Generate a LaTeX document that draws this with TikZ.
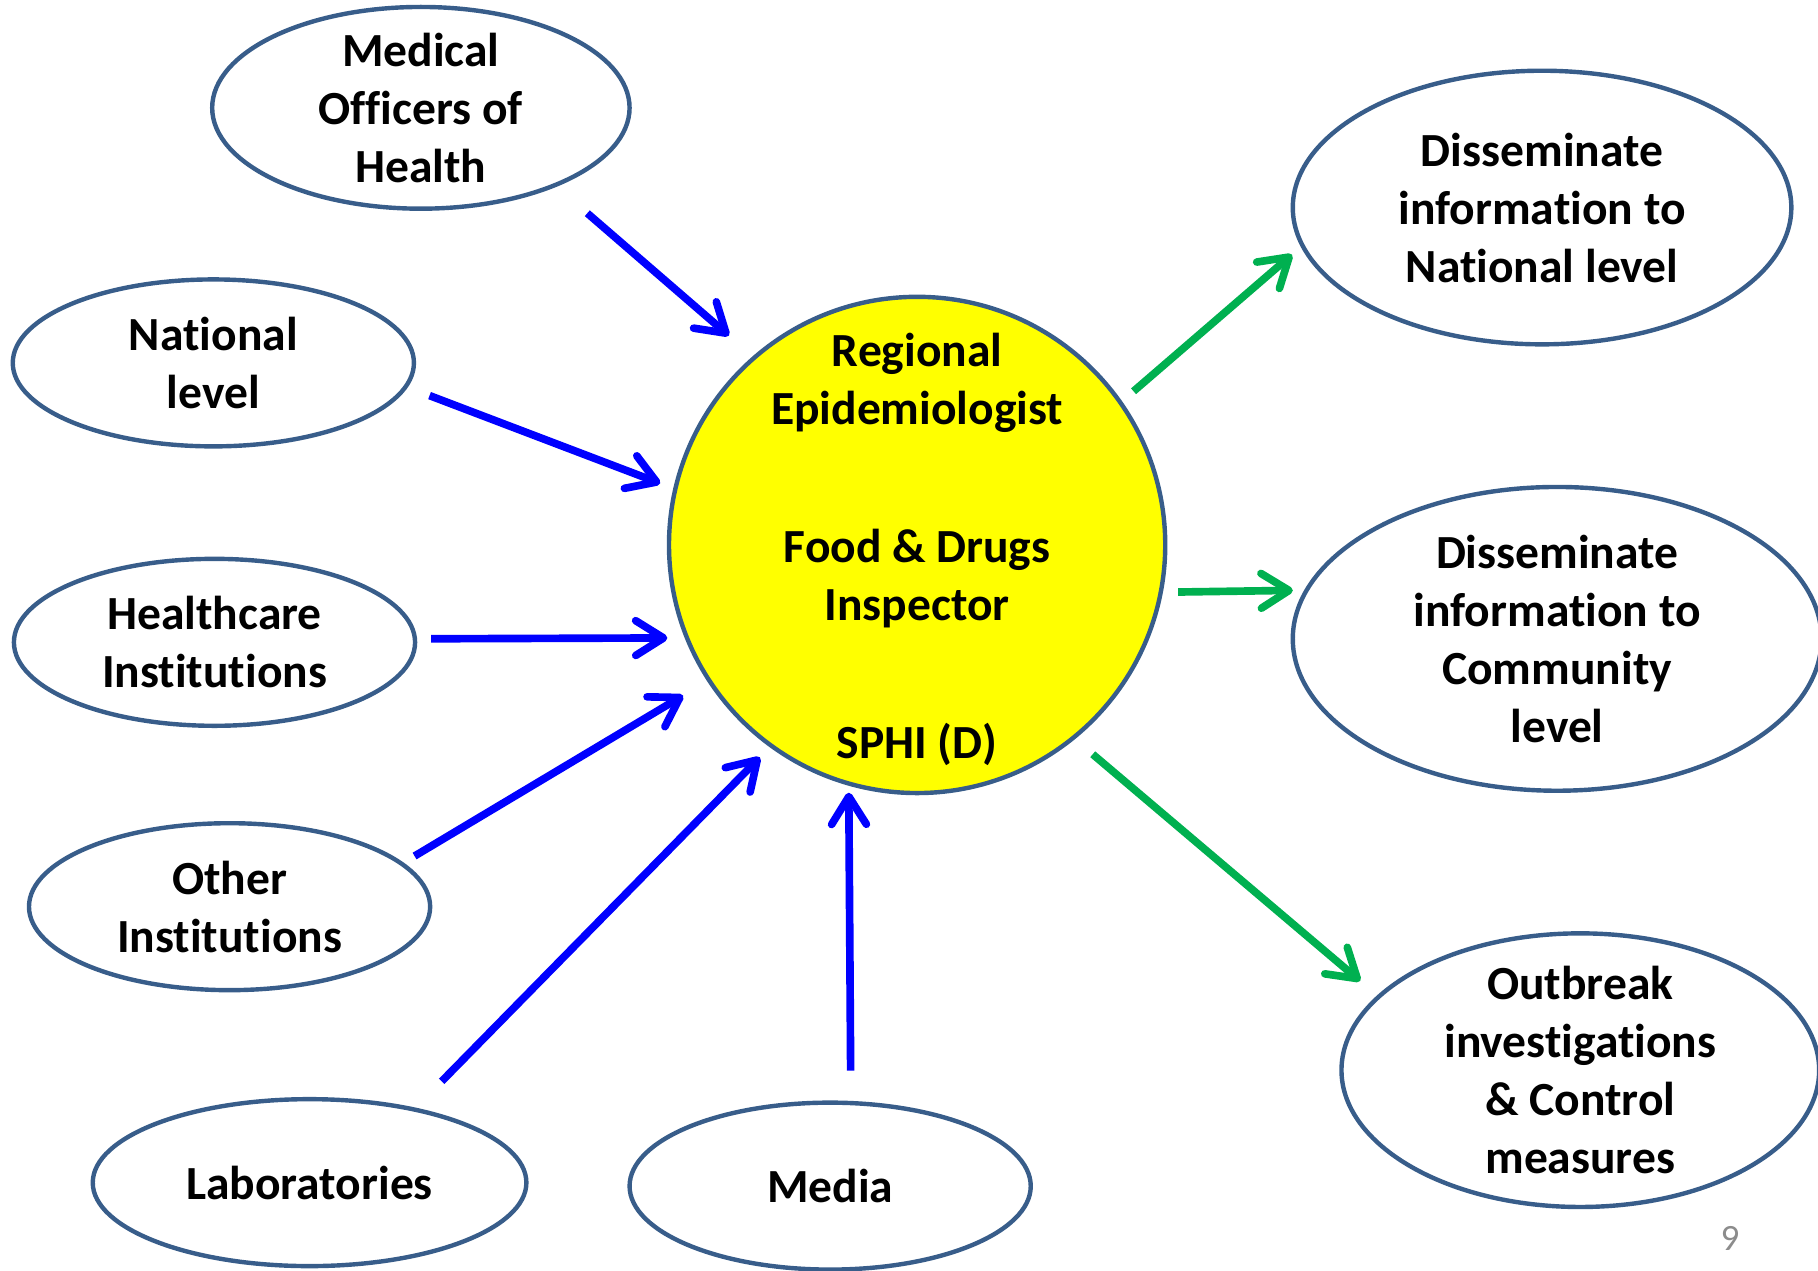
\documentclass[tikz,border=0pt]{standalone}
\usepackage{fontspec}
\setmainfont{Carlito}[Ligatures=NoCommon]
\usetikzlibrary{shapes.geometric,arrows.meta}
\definecolor{c385d8a}{RGB}{56,93,138}
\definecolor{c0000ff}{RGB}{0,0,255}
\definecolor{c00b050}{RGB}{0,176,80}
\definecolor{cffff00}{RGB}{255,255,0}
\definecolor{c8c8c8c}{RGB}{140,140,140}

\begin{document}
\begin{tikzpicture}[y=0.5pt,x=0.5pt,yscale=-1, inner sep=0pt, outer sep=0pt,
  blob/.style={ellipse,draw=c385d8a,line width=1.9pt,fill=white},
  txt/.style={align=center,font=\bfseries\fontsize{20.5}{25}\selectfont},
  inflow/.style={draw=c0000ff,line width=3.3pt,-{Straight Barb[length=12pt,width=15pt,round]}},
  outflow/.style={draw=c00b050,line width=3.3pt,-{Straight Barb[length=12pt,width=15pt,round]}}]
  \useasboundingbox (0,0) rectangle (1568,1096);

  % centre
  \path (791,470) node[circle,draw=c385d8a,line width=1.9pt,fill=cffff00,
    minimum size=214pt,
    label={[txt,yshift=-2pt]center:{Regional\\Epidemiologist\\[34.5pt]Food \& Drugs\\Inspector\\[34.5pt]SPHI (D)}}]
    (reg) {};

  % sources
  \path (363,93) node[blob,minimum width=180pt,minimum height=87pt,
    label={[txt]center:{Medical\\Officers of\\Health}}] (mooh) {};
  \path (184,313) node[blob,minimum width=173pt,minimum height=72pt,
    label={[txt]center:{National\\level}}] (natl) {};
  \path (185,554) node[blob,minimum width=173pt,minimum height=72pt,
    label={[txt]center:{Healthcare\\Institutions}}] (hcare) {};
  \path (198,782) node[blob,minimum width=173pt,minimum height=72pt,
    label={[txt]center:{Other\\Institutions}}] (other) {};
  \path (267,1020) node[blob,minimum width=187pt,minimum height=72pt,
    label={[txt]center:{Laboratories}}] (labs) {};
  \path (716,1023) node[blob,minimum width=173pt,minimum height=72pt,
    label={[txt]center:{Media}}] (media) {};

  % outputs
  \path (1330,179) node[blob,minimum width=215pt,minimum height=118pt,
    label={[txt]center:{Disseminate\\information to\\National level}}] (dnat) {};
  \path (1343,551) node[blob,minimum width=228pt,minimum height=131pt,
    label={[txt]center:{Disseminate\\information to\\Community\\level}}] (dcom) {};
  \path (1363,923) node[blob,minimum width=206pt,minimum height=118pt,
    label={[txt]center:{Outbreak\\investigations\\\& Control\\measures}}] (obrk) {};

  % arrows in
  \path[inflow,shorten <=18.5pt,shorten >=14.5pt] (mooh.-30.5) -- (reg.131.2);
  \path[inflow,shorten <=11pt,shorten >=7pt] (natl.-7.6) -- (reg.167.3);
  \path[inflow,shorten <=7pt,shorten >=8.5pt] (hcare.1) -- (reg.202.2);
  \path[inflow,shorten <=6.5pt,shorten >=13pt] (other.14.4) -- (reg.213.1);
  \path[inflow,shorten <=17pt,shorten >=7pt] (labs.35.1) -- (reg.234.8);
  \path[inflow,shorten <=14pt,shorten >=4pt] (media.76.6) -- (reg.254.3);

  % arrows out
  \path[outflow,shorten <=7.5pt,shorten >=6pt] (reg.35.4) -- (dnat.189.7);
  \path[outflow,shorten <=7.5pt,shorten >=6pt] (reg.-11.05) -- (dcom.169.56);
  \path[outflow,shorten <=11pt,shorten >=10.5pt] (reg.-51.9) -- (obrk.160.2);

  \path (1492,1068) node[text=c8c8c8c,font=\fontsize{16}{18}\selectfont] (pnum) {9};
\end{tikzpicture}
\end{document}
